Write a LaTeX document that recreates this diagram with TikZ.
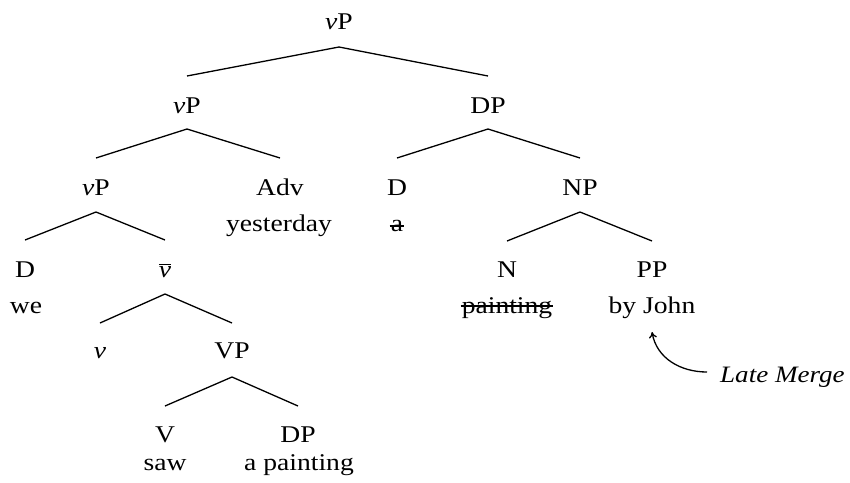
\documentclass[tikz,border=0pt]{standalone}
\usepackage{fontspec}
\setmainfont{Liberation Serif}[FakeStretch=1.15]
\usetikzlibrary{arrows.meta}
\begin{document}
\begin{tikzpicture}[x=1pt,y=-1pt,
  lab/.style={anchor=base,inner sep=0pt,font=\fontsize{24}{28}\selectfont},
  br/.style={line width=1.3pt},
  strike/.style={line width=1.1pt},
  note/.style={anchor=base west,inner sep=0pt,font=\fontsize{23.5}{28}\selectfont\itshape}]
\useasboundingbox (0,0) rectangle (850,482);
\newcommand{\vv}{\textit{v}}
% nodes
\node[lab] (root) at (339,29) {\vv P};
\node[lab] (vp2) at (187,113) {\vv P};
\node[lab] (dp2) at (488,113) {DP};
\node[lab] (vp3) at (96,195) {\vv P};
\node[lab] (adv) at (280,195) {Adv};
\node[lab] (advw) at (279,231) {yesterday};
\node[lab] (d3) at (397,195) {D};
\node[lab] (d3w) at (397,231) {a};
\node[lab] (np) at (580,195) {NP};
\node[lab] (d4) at (25,277) {D};
\node[lab] (we) at (26,313) {we};
\node[lab] (vbar) at (165,277) {$\overline{\mbox{\textit{v}}}$};
\node[lab] (n) at (507,277) {N};
\node[lab] (nw) at (507,313) {painting};
\node[lab] (pp) at (652,277) {PP};
\node[lab] (ppw) at (652,313) {by John};
\node[lab] (v) at (100,358) {\vv};
\node[lab] (vp) at (232,358) {VP};
\node[lab] (V) at (165,442) {V};
\node[lab] (saw) at (165,470) {saw};
\node[lab] (dp) at (298,442) {DP};
\node[lab] (apainting) at (299,470) {a painting};
\node[note] (late) at (720,382) {Late Merge};
% strike-outs
\draw[strike] ([xshift=-1pt,yshift=5]d3w.base west) -- ([xshift=1pt,yshift=5]d3w.base east);
\draw[strike] ([xshift=-1pt,yshift=7]nw.base west) -- ([xshift=1pt,yshift=7]nw.base east);
% branches
\draw[br] ([yshift=37]vp2.base) -- ([yshift=-18]root.base) -- ([yshift=37]dp2.base);
\draw[br] ([yshift=37]vp3.base) -- ([yshift=-16]vp2.base) -- ([yshift=37]adv.base);
\draw[br] ([yshift=37]d3.base) -- ([yshift=-16]dp2.base) -- ([yshift=37]np.base);
\draw[br] ([yshift=37]d4.base) -- ([yshift=-17]vp3.base) -- ([yshift=37]vbar.base);
\draw[br] ([yshift=36]n.base) -- ([yshift=-17]np.base) -- ([yshift=36]pp.base);
\draw[br] ([yshift=35]v.base) -- ([yshift=-17]vbar.base) -- ([yshift=35]vp.base);
\draw[br] ([yshift=36]V.base) -- ([yshift=-19]vp.base) -- ([yshift=36]dp.base);
% arrow
\draw[line width=1.3pt,-{To[length=6pt,width=8pt]}] ([xshift=-13pt,yshift=10]late.base west) to[out=180,in=-80] ([yshift=-19]ppw.base);
\end{tikzpicture}
\end{document}
